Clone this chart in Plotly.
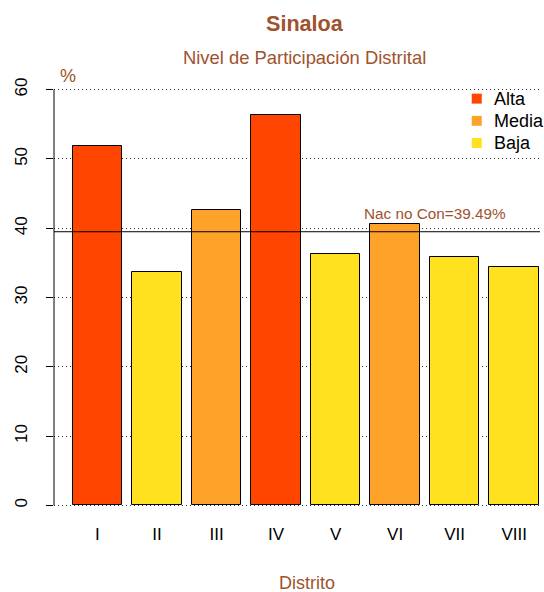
import plotly.graph_objects as go

distritos = ["I", "II", "III", "IV", "V", "VI", "VII", "VIII"]
participacion = [51.9, 33.7, 42.7, 56.4, 36.3, 40.6, 35.9, 34.4]
nivel = ["Alta", "Baja", "Media", "Alta", "Baja", "Media", "Baja", "Baja"]
niveles = ["Alta", "Media", "Baja"]
colores = {"Alta": "#FF4500", "Media": "#FFA229", "Baja": "#FFE120"}
nacional = 39.49
y_ticks = [0, 10, 20, 30, 40, 50, 60]

brown = "#A0522D"
font = "Liberation Sans, Arial, sans-serif"

# R barplot positions: width 1, space 0.2
x_pos = [0.7 + 1.2 * i for i in range(len(distritos))]

fig = go.Figure()
fig.add_trace(go.Bar(
    x=x_pos, y=participacion, width=1.0,
    marker=dict(color=[colores[n] for n in nivel], line=dict(color="black", width=1)),
    showlegend=False, hoverinfo="x+y",
))

# reference line and left axis segment (0..60 only, like R)
fig.add_shape(type="line", xref="paper", yref="y", x0=0, x1=1, y0=nacional, y1=nacional,
              line=dict(color="black", width=1), layer="above")
fig.add_shape(type="line", xref="paper", yref="y", x0=0, x1=0, y0=y_ticks[0], y1=y_ticks[-1],
              line=dict(color="black", width=1), layer="above")

# legend (drawn manually, R style)
leg_y = [58.7, 55.5, 52.3]
for n, yy in zip(niveles, leg_y):
    fig.add_shape(type="rect", xref="x", yref="y", x0=8.244, x1=8.446, y0=yy - 0.72, y1=yy + 0.72,
                  fillcolor=colores[n], line=dict(width=0), layer="above")
    fig.add_annotation(x=8.66, y=yy, xref="x", yref="y", text=n, showarrow=False,
                       xanchor="left", yanchor="middle", font=dict(size=18, color="black", family=font))

fig.add_annotation(x=7.5, y=(505 - 214) / 6.917, xref="x", yref="y", text=f"Nac no Con={nacional}%",
                   showarrow=False, font=dict(size=15.3, color=brown, family=font), yanchor="middle")
fig.add_annotation(x=0.1, y=62.0, xref="x", yref="y", text="%", showarrow=False,
                   font=dict(size=18, color=brown, family=font))
fig.add_annotation(x=0.516, y=1, xref="paper", yref="paper", yanchor="middle", yshift=50,
                   text="<b>Sinaloa</b>", showarrow=False, font=dict(size=21.6, color=brown, family=font))
fig.add_annotation(x=0.516, y=1, xref="paper", yref="paper", yanchor="middle", yshift=15.4,
                   text="Nivel de Participación Distrital", showarrow=False,
                   font=dict(size=18.4, color=brown, family=font))
fig.add_annotation(x=0.521, y=0, xref="paper", yref="paper", yanchor="middle", yshift=-61.4,
                   text="Distrito", showarrow=False, font=dict(size=18, color=brown, family=font))

fig.update_layout(
    width=544, height=592,
    margin=dict(l=54, r=4, t=73, b=70, autoexpand=False),
    paper_bgcolor="white", plot_bgcolor="white",
    font=dict(family=font, size=18, color="black"),
    bargap=0, showlegend=False,
)
fig.update_xaxes(
    range=[-0.176, 9.62], tickvals=x_pos, ticktext=distritos, showgrid=False,
    zeroline=False, showline=False, ticks="", tickfont=dict(size=17, family=font),
    automargin=False,
)
fig.update_yaxes(
    range=[-2.4, 62.4], tickvals=y_ticks, showgrid=True, gridcolor="#333333",
    griddash="1px,3px", gridwidth=1, zeroline=False, showline=False,
    ticks="outside", ticklen=7, tickcolor="black", tickangle=-90,
    tickfont=dict(size=17, family=font), automargin=False, ticklabelstandoff=12,
)

fig.write_html("out.html", config={"displayModeBar": False},
               post_script="document.body.style.margin='0';document.body.style.overflow='hidden';")
